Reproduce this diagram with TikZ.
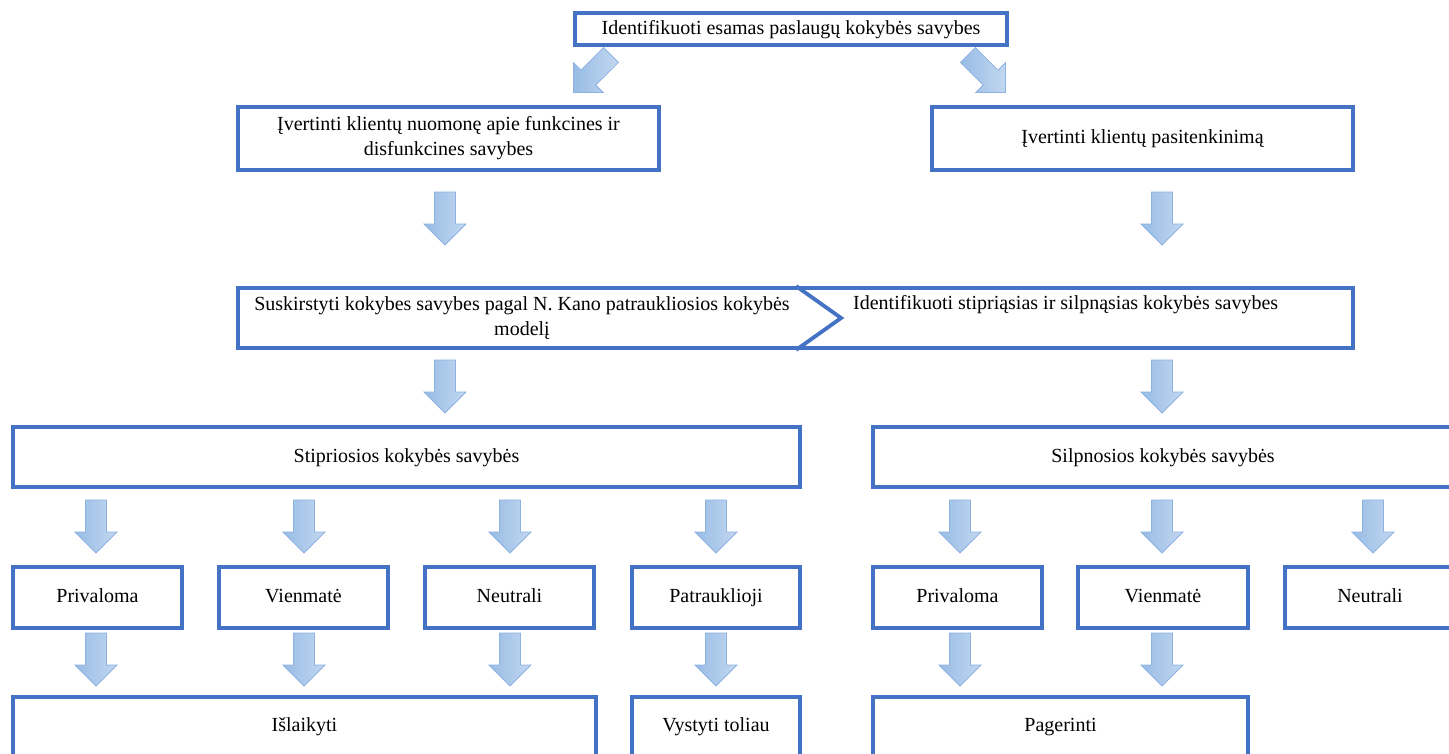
\documentclass[tikz,border=0pt]{standalone}
\usepackage{fontspec}
\setmainfont{Liberation Serif}
\usetikzlibrary{calc}
\definecolor{boxblue}{RGB}{68,114,196}
\definecolor{arrowedge}{RGB}{141,178,226}
\definecolor{arrowdark}{RGB}{152,188,229}
\definecolor{arrowlight}{RGB}{194,215,240}
\tikzset{
  txt/.style={font=\fontsize{20}{25}\selectfont},
  box/.style={draw=boxblue, line width=3.8pt, fill=white, inner sep=2pt, align=center, txt},
  oneline/.style={box, text height=14pt, text depth=4pt},
  lbl/.style={inner sep=0pt, align=center, txt},
  frame/.style={draw=boxblue, line width=3.8pt, line join=miter},
  blockarrow/.pic={
    \path[draw=arrowedge, line width=0.8pt, left color=arrowdark, right color=arrowlight]
      (-10.5,0) -- (-10.5,32) -- (-21,32) -- (0,53) -- (21,32) -- (10.5,32) -- (10.5,0) -- cycle;
  }
}
\begin{document}
\begin{tikzpicture}[x=1pt, y=-1pt]
\path[use as bounding box, fill=white] (0,0) rectangle (1449,753);
\clip (0,0) rectangle (1449,753);

% top level
\node[oneline, minimum width=432pt, minimum height=32pt] (top) at (791,29)
  {Identifikuoti esamas paslaugų kokybės savybes};
\pic[rotate=-45] at (611,55) {blockarrow};
\pic[rotate=45] at (968,55) {blockarrow};

% second level
\node[box, minimum width=421pt, minimum height=63pt] (opinion) at (448.5,138.5)
  {Įvertinti klientų nuomonę apie funkcines ir\\disfunkcines savybes};
\node[oneline, minimum width=421pt, minimum height=63pt] (satisf) at (1142.5,138.5)
  {Įvertinti klientų pasitenkinimą};
\pic at (445,192) {blockarrow};
\pic at (1162,192) {blockarrow};

% combined step with chevron
\node[box, minimum width=1115pt, minimum height=60pt] (mid) at (795.5,318) {};
\draw[frame] ($(mid.north west)+(560,0)$) -- ($(mid.west)+(605,0)$) -- ($(mid.south west)+(560,0)$);
\node[lbl] (midL) at (522,318)
  {Suskirstyti kokybes savybes pagal N. Kano patraukliosios kokybės\\modelį};
\node[lbl, anchor=west] (midR) at (853,305)
  {Identifikuoti stipriąsias ir silpnąsias kokybės savybes};
\pic at (445,360) {blockarrow};
\pic at (1162,360) {blockarrow};

% strong / weak
\node[oneline, minimum width=787pt, minimum height=60pt] (strong) at (406.5,457)
  {Stipriosios kokybės savybės};
\node[oneline, minimum width=580pt, minimum height=60pt] (weak) at (1163,457)
  {Silpnosios kokybės savybės};
\foreach \ax in {96,304,510,716,960,1162,1373}
  \pic at (\ax,500) {blockarrow};

% categories
\node[oneline, minimum width=169pt, minimum height=61pt] (priv) at (97.5,597.5) {Privaloma};
\node[oneline, minimum width=169pt, minimum height=61pt] (vien) at (303.5,597.5) {Vienmatė};
\node[oneline, minimum width=169pt, minimum height=61pt] (neut) at (509.5,597.5) {Neutrali};
\node[oneline, minimum width=168pt, minimum height=61pt] (patr) at (716,597.5) {Patrauklioji};
\node[oneline, minimum width=169pt, minimum height=61pt] (privB) at (957.5,597.5) {Privaloma};
\node[oneline, minimum width=170pt, minimum height=61pt] (vienB) at (1163,597.5) {Vienmatė};
\node[oneline, minimum width=170pt, minimum height=61pt] (neutB) at (1370,597.5) {Neutrali};
\foreach \ax in {96,304,510,716,960,1162}
  \pic at (\ax,633) {blockarrow};

% actions
\node[oneline, minimum width=583pt, minimum height=59pt] (keep) at (304.5,726.5) {Išlaikyti};
\node[oneline, minimum width=168pt, minimum height=59pt] (develop) at (716,726.5) {Vystyti toliau};
\node[oneline, minimum width=375pt, minimum height=59pt] (improve) at (1060.5,726.5) {Pagerinti};
\end{tikzpicture}
\end{document}
